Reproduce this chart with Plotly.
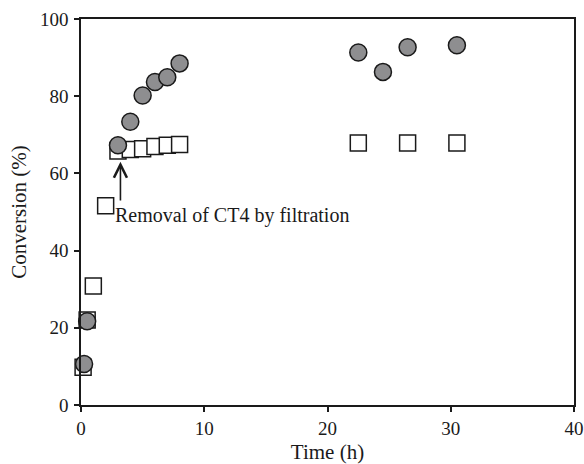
import plotly.graph_objects as go

# Data
time_filtered = [0.17, 0.5, 1.0, 2.0, 3.0, 4.0, 5.0, 6.0, 7.0, 8.0, 22.5, 26.5, 30.5]
conv_filtered = [9.8, 22.0, 30.8, 51.6, 65.8, 66.2, 66.4, 67.0, 67.3, 67.5, 67.9, 67.9, 67.9]

time_catalyst = [0.25, 0.5, 3.0, 4.0, 5.0, 6.0, 7.0, 8.0, 22.5, 24.5, 26.5, 30.5]
conv_catalyst = [10.6, 21.7, 67.3, 73.4, 80.2, 83.7, 84.9, 88.5, 91.3, 86.3, 92.7, 93.2]

x_ticks = [0, 10, 20, 30, 40]
y_ticks = [0, 20, 40, 60, 80, 100]

annotation_text = "Removal of CT4 by filtration"
arrow_x = 3.2
arrow_tip_y = 63.0
arrow_tail_y = 52.6
text_x = 2.6
text_y = 49.0

FONT = "Liberation Serif"
INK = "#1a1a1a"

fig = go.Figure()
fig.add_trace(go.Scatter(
    x=time_filtered, y=conv_filtered, mode="markers",
    marker=dict(symbol="square", size=16, color="white",
                line=dict(color=INK, width=1.5)),
    showlegend=False, cliponaxis=False))
fig.add_trace(go.Scatter(
    x=time_catalyst, y=conv_catalyst, mode="markers",
    marker=dict(symbol="circle", size=17, color="#8e8e90",
                line=dict(color=INK, width=1.5)),
    showlegend=False, cliponaxis=False))

fig.add_annotation(x=arrow_x, y=arrow_tip_y, ax=arrow_x, ay=arrow_tail_y,
                   xref="x", yref="y", axref="x", ayref="y",
                   text="", showarrow=True, arrowhead=5, arrowsize=1.6,
                   arrowwidth=1.6, arrowcolor=INK)
fig.add_annotation(x=text_x, y=text_y, xref="x", yref="y", text=annotation_text,
                   showarrow=False, xanchor="left", yanchor="middle",
                   font=dict(family=FONT, size=20, color=INK))

axis_common = dict(showgrid=False, zeroline=False, showline=True, linecolor=INK,
                   linewidth=1.5, mirror=True, ticks="outside", ticklen=5,
                   tickwidth=1.5, tickcolor=INK, automargin=False,
                   tickfont=dict(family=FONT, size=19, color=INK))

fig.update_xaxes(range=[0, 40], tickvals=x_ticks, ticklabelstandoff=0,
                 title=dict(text="Time (h)", font=dict(family=FONT, size=21, color=INK), standoff=14),
                 **axis_common)
fig.update_yaxes(range=[0, 100], tickvals=y_ticks, ticklabelstandoff=2,
                 title=dict(text="Conversion (%)", font=dict(family=FONT, size=21, color=INK), standoff=8),
                 **axis_common)

fig.update_layout(width=584, height=464, margin=dict(l=81, r=10, t=19, b=59),
                  plot_bgcolor="white", paper_bgcolor="white")

fig.write_html("out.html")
